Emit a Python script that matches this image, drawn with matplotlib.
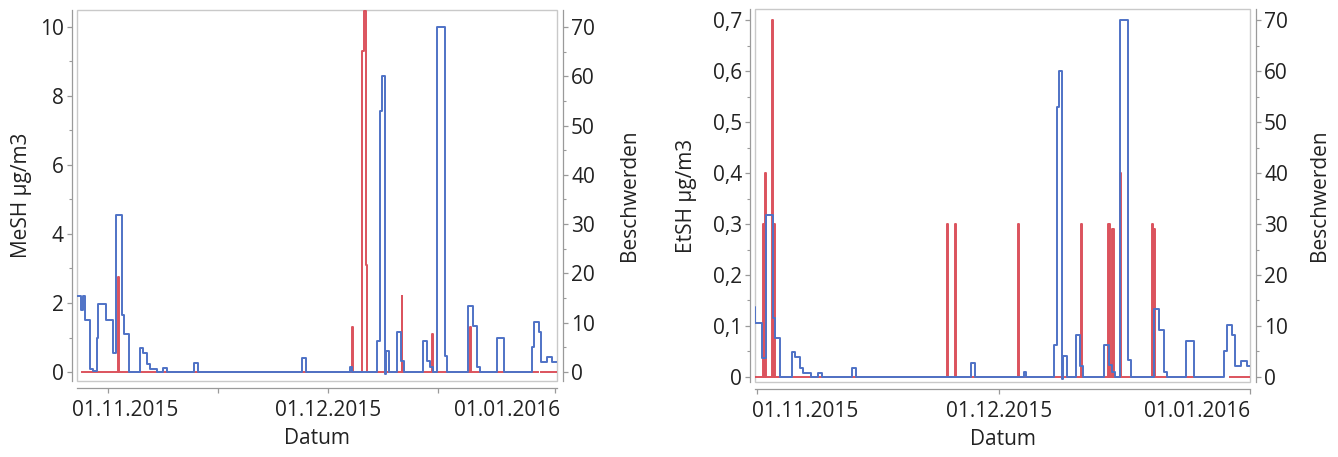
import numpy as np
import pandas as pd
import matplotlib
matplotlib.use("Agg")
import matplotlib.pyplot as plt
from matplotlib.patches import Rectangle
from matplotlib.transforms import ScaledTranslation

# Beschwerden (step values, shared by both panels)
besch_t = ["2015-10-27 22:00", "2015-10-28 08:00", "2015-10-28 13:00", "2015-10-28 21:00",
           "2015-10-29 13:00", "2015-10-30 00:00", "2015-10-30 10:00", "2015-10-30 16:00",
           "2015-10-31 17:00", "2015-11-01 16:00", "2015-11-02 02:00", "2015-11-02 22:00",
           "2015-11-03 04:00", "2015-11-03 21:00", "2015-11-05 09:00", "2015-11-05 18:00",
           "2015-11-06 08:00", "2015-11-06 17:00", "2015-11-07 16:00", "2015-11-08 12:00",
           "2015-11-09 01:00", "2015-11-12 17:00", "2015-11-13 07:00", "2015-11-27 11:00",
           "2015-11-28 00:00", "2015-12-04 00:00", "2015-12-04 07:00", "2015-12-07 17:00",
           "2015-12-08 03:00", "2015-12-08 09:00", "2015-12-08 19:00", "2015-12-08 22:00",
           "2015-12-09 08:00", "2015-12-10 10:00", "2015-12-10 23:00", "2015-12-11 09:00",
           "2015-12-13 23:00", "2015-12-14 12:00", "2015-12-14 22:00", "2015-12-15 08:00",
           "2015-12-15 21:00", "2015-12-16 23:00", "2015-12-17 06:00", "2015-12-20 03:00",
           "2015-12-20 19:00", "2015-12-21 08:00", "2015-12-21 18:00", "2015-12-24 02:00",
           "2015-12-25 01:00", "2015-12-28 20:00", "2015-12-29 03:00", "2015-12-29 19:00",
           "2015-12-30 02:00", "2015-12-30 21:00", "2015-12-31 14:00", "2016-01-01 03:00"]
besch_v = [15.5, 12.5, 15.5, 10.5,
           0.7, 0.2, 7.0, 13.7,
           10.5, 3.8, 31.8, 11.5,
           7.7, 0.0, 4.8, 3.9,
           1.7, 0.7, 0.0, 0.8,
           0.0, 1.8, 0.0, 2.8,
           0.0, 1.0, 0.0, 6.3,
           53.0, 60.0, -0.5, 4.2,
           0.0, 8.2, 2.2, 0.0,
           6.3, 2.3, 1.0, 0.0,
           70.0, 3.3, 0.0, 13.3,
           9.3, 1.0, 0.0, 7.0,
           0.0, 5.1, 10.2, 8.2,
           2.1, 3.1, 2.1, 2.1]

# MeSH concentration
mesh_t = ["2015-10-28 12:00", "2015-11-02 08:00", "2015-11-02 11:00",
          "2015-12-04 07:00", "2015-12-04 09:00",
          "2015-12-05 15:00", "2015-12-05 22:00", "2015-12-06 05:00", "2015-12-06 08:00",
          "2015-12-11 02:00", "2015-12-11 04:00",
          "2015-12-15 05:00", "2015-12-15 07:00",
          "2015-12-20 10:00", "2015-12-20 12:00",
          "2015-12-29 16:00", "2015-12-30 02:00", "2016-01-01 06:00"]
mesh_v = [0.0, 2.75, 0.0,
          1.3, 0.0,
          9.3, 10.45, 3.1, 0.0,
          2.2, 0.0,
          1.1, 0.0,
          1.3, 0.0,
          np.nan, 0.0, 0.0]

# EtSH concentration
etsh_t = ["2015-10-31 18:00", "2015-11-01 17:00", "2015-11-01 20:00", "2015-11-01 23:00", "2015-11-02 02:00",
          "2015-11-02 19:00", "2015-11-02 22:00", "2015-11-03 01:00", "2015-11-03 04:00",
          "2015-11-24 13:00", "2015-11-24 16:00", "2015-11-25 13:00", "2015-11-25 16:00",
          "2015-12-03 07:00", "2015-12-03 10:00", "2015-12-11 02:00", "2015-12-11 05:00",
          "2015-12-14 09:00", "2015-12-14 12:00", "2015-12-14 14:00", "2015-12-14 17:00",
          "2015-12-14 21:00", "2015-12-15 00:00", "2015-12-15 02:00", "2015-12-15 05:00",
          "2015-12-15 23:00", "2015-12-16 02:00",
          "2015-12-19 20:00", "2015-12-19 23:00", "2015-12-20 04:00", "2015-12-20 07:00",
          "2015-12-28 08:00", "2015-12-29 14:00", "2016-01-01 00:00"]
etsh_v = [0.0, 0.30, 0.0, 0.40, 0.0,
          0.70, 0.0, 0.30, 0.0,
          0.30, 0.0, 0.30, 0.0,
          0.30, 0.0, 0.30, 0.0,
          0.30, 0.0, 0.30, 0.0,
          0.29, 0.0, 0.29, 0.0,
          0.40, 0.0,
          0.30, 0.0, 0.29, 0.0,
          np.nan, 0.0, 0.0]

BLUE = "#4f72c6"
RED = "#d8404c"
AXIS = "#9a9a9a"
FRAME = "#c9c9c9"
TEXT = "#222222"

plt.rcParams["font.family"] = ["Open Sans", "DejaVu Sans"]
plt.rcParams["font.size"] = 15

fig = plt.figure(figsize=(13.38, 4.57), dpi=100)


def px(dx, dy=0):
    return ScaledTranslation(dx / 100, dy / 100, fig.dpi_scale_trans)


def panel(rect, conc_t, conc_v, ylabel, ylim, yticks, ylabs, xlim, xticks, shifts,
          ylab_x, yrlab_x):
    ax = fig.add_axes(rect)
    ax2 = ax.twinx()

    # concentration in red underneath, complaints in blue on top
    ax.step(pd.to_datetime(conc_t), conc_v, where="post", color=RED, lw=1.4, alpha=0.9)
    ax2.step(pd.to_datetime(besch_t), besch_v, where="post", color=BLUE, lw=1.4)

    ax.set_xlim(pd.Timestamp(xlim[0]), pd.Timestamp(xlim[1]))
    ax.set_ylim(*ylim)
    ax2.set_ylim(ylim[0] * 70 / yticks[-1], ylim[1] * 70 / yticks[-1])

    ax.set_yticks(yticks, ylabs)
    ax.set_yticks([(a + b) / 2 for a, b in zip(yticks[:-1], yticks[1:])], minor=True)
    ax2.set_yticks(range(0, 71, 10))
    ax2.set_yticks(range(5, 70, 10), minor=True)

    xt = pd.to_datetime(xticks)
    labs = [d.strftime("%d.%m.%Y") if d.day == 1 else "" for d in xt]
    ax.set_xticks(xt, labs)

    # frame box plus detached axis lines
    for s in ("top", "right"):
        ax.spines[s].set_visible(False)
    for s in ("top", "left", "bottom"):
        ax2.spines[s].set_visible(False)
    ax.spines["left"].set_position(("outward", 3.6))
    ax.spines["bottom"].set_position(("outward", 5))
    ax2.spines["right"].set_position(("outward", 4.3))
    for sp in (ax.spines["left"], ax.spines["bottom"], ax2.spines["right"]):
        sp.set_color(AXIS)
        sp.set_linewidth(0.9)
    ax.add_patch(Rectangle((0, 0), 1, 1, transform=ax.transAxes, fill=False,
                           ec=FRAME, lw=1.0, clip_on=False, zorder=0))

    for a in (ax, ax2):
        a.tick_params(which="major", length=3.8, width=0.9, color=AXIS,
                      labelcolor=TEXT, labelsize=15, pad=2)
        a.tick_params(which="minor", length=2.5, width=0.8, color=AXIS)
    ax.tick_params(axis="x", pad=5)

    for lab, (ha, off) in zip([l for l in ax.get_xticklabels() if l.get_text()], shifts):
        lab.set_ha(ha)
        lab.set_transform(lab.get_transform() + px(off))

    ax.set_ylabel(ylabel, fontsize=15, color=TEXT)
    ax.yaxis.label.set_va("center")
    ax.yaxis.set_label_coords(ylab_x, 0.5)
    ax2.set_ylabel("Beschwerden", fontsize=15, color=TEXT)
    ax2.yaxis.label.set_va("center")
    ax2.yaxis.set_label_coords(yrlab_x, 0.5)
    ax.set_xlabel("Datum", fontsize=15, color=TEXT)
    ax.xaxis.label.set_va("center")
    ax.xaxis.set_label_coords(0.5, -0.155)
    return ax, ax2


W, H = 1338, 457

panel([77 / W, 1 - 381 / H, 480 / W, 371 / H],
      mesh_t, mesh_v, "MeSH µg/m3", (-0.26, 10.49), [0, 2, 4, 6, 8, 10],
      ["0", "2", "4", "6", "8", "10"],
      ("2015-10-27 18:00", "2016-01-01 06:00"),
      ["2015-11-01", "2015-11-16", "2015-12-01", "2015-12-16", "2016-01-01"],
      [("center", 17), ("center", 0), ("right", 5)],
      -0.115, 1.152)

panel([755 / W, 1 - 382 / H, 495 / W, 373 / H],
      etsh_t, etsh_v, "EtSH µg/m3", (-0.01, 0.722), [0, 0.1, 0.2, 0.3, 0.4, 0.5, 0.6, 0.7],
      ["0", "0,1", "0,2", "0,3", "0,4", "0,5", "0,6", "0,7"],
      ("2015-10-31 18:00", "2016-01-01 00:00"),
      ["2015-11-01", "2015-12-01", "2016-01-01"],
      [("left", -5), ("center", 0), ("right", 0)],
      -0.138, 1.14)

fig.savefig("out.png", dpi=100, facecolor="white")
